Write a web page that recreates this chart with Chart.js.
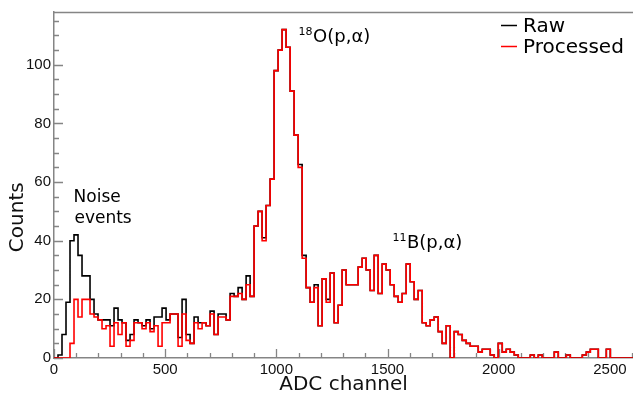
<!DOCTYPE html>
<html><head><meta charset="utf-8">
<script src="https://cdn.jsdelivr.net/npm/chart.js@4.4.1/dist/chart.umd.min.js"></script>
<style>html,body{margin:0;padding:0;background:#fff;overflow:hidden}#wrap{width:633px;height:401px}</style>
</head><body><div id="wrap"><canvas id="c" width="633" height="401"></canvas></div>
<script>
// ---- data ----
const BIN_WIDTH = 18; // ADC channels per histogram bin
const rawCounts = [
  0,0,1,8,19, 40,42,35,28,28, 20,15,13,13,13, 11,17,13,12,6,
  8,13,12,11,13, 10,14,14,17,13, 15,15,7,20,8, 5,14,12,12,11,
  16,8,15,15,13, 22,21,24,20,28, 21,45,50,41,52, 61,98,105,112,106,
  91,76,66,35,24, 19,25,11,27,20, 29,12,18,30,25, 25,25,31,34,30,
  23,35,22,32,30, 25,21,19,22,32, 26,20,23,12,11, 13,14,9,5,11,
  0,9,8,6,5, 4,4,2,3,3, 1,0,5,2,3, 2,1,0,0,0,
  1,0,1,0,0, 0,2,0,0,1, 0,0,0,1,2, 3,3,0,0,3, 0,0,0,0,0
];
const processedCounts = [
  0,0,0,0,0, 5,20,14,20,20, 15,14,13,10,11, 4,12,8,12,4,
  6,12,12,10,12, 9,11,4,12,12, 15,15,4,15,6, 5,12,10,12,11,
  15,8,14,14,13, 21,21,22,20,25, 21,45,50,40,52, 61,98,105,112,106,
  91,76,65,34,24, 19,24,11,27,19, 29,12,18,30,25, 25,25,31,34,30,
  23,35,22,32,30, 25,21,19,22,32, 26,20,23,12,11, 13,14,9,5,11,
  0,9,8,6,5, 4,4,2,3,3, 1,0,5,2,3, 2,1,0,0,0,
  1,0,1,0,0, 0,2,0,0,1, 0,0,0,1,2, 3,3,0,0,3, 0,0,0,0,0
];
const seriesLabels = ['Raw', 'Processed'];
const xTickValues = [0, 500, 1000, 1500, 2000, 2500];
const yTickValues = [0, 20, 40, 60, 80, 100];
const xTitle = 'ADC channel';
const yTitle = 'Counts';
const annotations = [
  {x: 88,   y: 53.3, sup: '',   text: 'Noise'},
  {x: 92,   y: 46.2, sup: '',   text: 'events'},
  {x: 1100, y: 107.8, sup: '18', text: 'O(p,\u03b1)'},
  {x: 1522, y: 37.6, sup: '11', text: 'B(p,\u03b1)'}
];

// ---- styling ----
const X_MAX = 2604, Y_MAX = 118;
const X_MINOR = 100, X_MAJOR = 500, Y_MINOR = 5, Y_MAJOR = 20;
const AXIS_COLOR = '#858585';
const TICK_FONT = {family: 'Liberation Sans', size: 15};
const TITLE_FONT = {family: 'DejaVu Sans', size: 20};

function toSteps(counts) {
  const pts = counts.map((c, i) => ({x: i * BIN_WIDTH, y: c}));
  pts.push({x: counts.length * BIN_WIDTH, y: 0});
  return pts;
}

const decorPlugin = {
  id: 'decor',
  beforeDatasetsDraw(chart) {
    const {ctx, chartArea: a, scales: {x, y}} = chart;
    ctx.save();
    ctx.strokeStyle = AXIS_COLOR;
    ctx.lineWidth = 1.3;
    ctx.beginPath();
    ctx.moveTo(a.left, a.top + 0.5); ctx.lineTo(a.right, a.top + 0.5);
    for (let v = 0; v <= X_MAX; v += X_MINOR) {
      const px = Math.round(x.getPixelForValue(v)) + 0.5;
      const len = v % X_MAJOR === 0 ? 9 : 5;
      ctx.moveTo(px, a.bottom); ctx.lineTo(px, a.bottom - len);
    }
    for (let v = 0; v <= Y_MAX; v += Y_MINOR) {
      const py = Math.round(y.getPixelForValue(v)) + 0.5;
      const len = v % Y_MAJOR === 0 ? 9 : 5;
      ctx.moveTo(a.left, py); ctx.lineTo(a.left + len, py);
    }
    ctx.stroke();
    ctx.restore();
  },
  afterDatasetsDraw(chart) {
    const {ctx, chartArea: a, scales: {x, y}} = chart;
    ctx.save();
    ctx.fillStyle = '#000';
    ctx.textBaseline = 'alphabetic';
    // annotations
    annotations.forEach(an => {
      let px = x.getPixelForValue(an.x);
      const py = y.getPixelForValue(an.y);
      if (an.sup) {
        ctx.font = '11px "DejaVu Sans"';
        ctx.fillText(an.sup, px, py - 7);
        px += ctx.measureText(an.sup).width + 0.5;
        ctx.font = '18px "DejaVu Sans"';
      } else {
        ctx.font = '17px "DejaVu Sans"';
      }
      ctx.fillText(an.text, px, py);
    });
    // legend
    ctx.font = '20px "DejaVu Sans"';
    chart.data.datasets.forEach((ds, i) => {
      const base = a.top + 20 + i * 21;
      ctx.strokeStyle = ds.borderColor;
      ctx.lineWidth = 1.5;
      ctx.beginPath();
      ctx.moveTo(a.right - 132, base - 6.5); ctx.lineTo(a.right - 116, base - 6.5);
      ctx.stroke();
      ctx.fillStyle = '#000';
      ctx.fillText(ds.label, a.right - 110, base);
    });
    // y-axis title (ROOT-style, placed toward the lower part of the axis)
    ctx.save();
    ctx.translate(18, y.getPixelForValue(48));
    ctx.rotate(-Math.PI / 2);
    ctx.font = '20px "DejaVu Sans"';
    ctx.fillStyle = '#111';
    ctx.textAlign = 'center';
    ctx.textBaseline = 'middle';
    ctx.fillText(yTitle, 0, 0);
    ctx.restore();
    ctx.restore();
  }
};

new Chart(document.getElementById('c'), {
  type: 'line',
  data: {
    datasets: [
      {label: seriesLabels[0], data: toSteps(rawCounts), borderColor: '#000000', borderWidth: 1.6,
       stepped: 'after', pointRadius: 0, fill: false, order: 1},
      {label: seriesLabels[1], data: toSteps(processedCounts), borderColor: '#ff0000', borderWidth: 1.6,
       stepped: 'after', pointRadius: 0, fill: false, order: 0}
    ]
  },
  options: {
    responsive: false,
    devicePixelRatio: 1,
    animation: false,
    layout: {padding: {top: 10, right: 0, left: 0, bottom: 0}},
    plugins: {legend: {display: false}, tooltip: {enabled: false}},
    scales: {
      x: {
        type: 'linear', min: 0, max: X_MAX,
        afterBuildTicks: s => { s.ticks = xTickValues.map(v => ({value: v})); },
        afterFit: s => { s.height = 43; },
        grid: {display: false, drawTicks: false},
        border: {display: true, color: AXIS_COLOR, width: 1.5},
        ticks: {font: TICK_FONT, color: '#111', padding: 3, maxRotation: 0, autoSkip: false,
                callback: v => String(v)},
        title: {display: true, text: xTitle, font: TITLE_FONT, color: '#111', padding: {top: 0, bottom: 4}}
      },
      y: {
        type: 'linear', min: 0, max: Y_MAX,
        afterBuildTicks: s => { s.ticks = yTickValues.map(v => ({value: v})); },
        afterFit: s => { s.width = 54; },
        grid: {display: false, drawTicks: false},
        border: {display: true, color: AXIS_COLOR, width: 1.5},
        ticks: {font: TICK_FONT, color: '#111', padding: 3, callback: v => String(v)},
        title: {display: false, text: yTitle}
      }
    }
  },
  plugins: [decorPlugin]
});
</script>
</body></html>
